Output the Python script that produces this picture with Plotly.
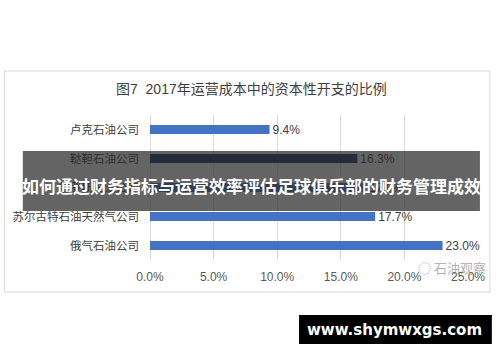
import plotly.graph_objects as go

# ---- data (top to bottom as shown) ----
companies = ["卢克石油公司", "鞑靼石油公司", "俄罗斯石油公司", "苏尔古特石油天然气公司", "俄气石油公司"]
capex_share = [9.4, 16.3, 17.0, 17.7, 23.0]  # % (third row hidden under banner: estimated)
bar_colors = ["#4472C4", "#1F3864", "#4472C4", "#4472C4", "#4472C4"]
x_ticks = [0, 5, 10, 15, 20, 25]
x_tick_labels = ["0.0%", "5.0%", "10.0%", "15.0%", "20.0%", "25.0%"]

title_text = "图7  2017年运营成本中的资本性开支的比例"
banner_text = "如何通过财务指标与运营效率评估足球俱乐部的财务管理成效"
site_text = "www.shymwxgs.com"
source_text = "石油观察"

W, H = 500, 362
L, R, T, B = 148, 32, 115, 102
PW, PH = W - L - R, H - T - B

def px(x):
    return (x - L) / PW

def py(y):
    return (H - B - y) / PH

FONT = "Liberation Sans, Arial, Noto Sans CJK SC, sans-serif"

fig = go.Figure()
fig.add_trace(go.Bar(
    y=companies,
    x=capex_share,
    orientation="h",
    marker=dict(color=bar_colors, line=dict(width=0)),
    text=[f"{v:.1f}%" for v in capex_share],
    textposition="outside",
    constraintext="none",
    textfont=dict(size=12, color="#404040", family=FONT),
    cliponaxis=False,
    hoverinfo="skip",
))

fig.update_layout(
    width=W, height=H,
    margin=dict(l=L, r=R, t=T, b=B, pad=0),
    paper_bgcolor="white",
    plot_bgcolor="white",
    showlegend=False,
    bargap=0.69,
    font=dict(family=FONT, color="#404040"),
    xaxis=dict(
        range=[0, 25],
        tickvals=x_ticks,
        ticktext=x_tick_labels,
        showgrid=True,
        gridcolor="#D9D9D9",
        gridwidth=1,
        zeroline=True,
        zerolinecolor="#D9D9D9",
        zerolinewidth=1,
        showline=False,
        ticks="",
        tickfont=dict(size=12, color="#595959", family=FONT),
        ticklabelstandoff=8,
        fixedrange=True,
    ),
    yaxis=dict(
        categoryorder="array",
        categoryarray=companies,
        autorange="reversed",
        showgrid=False,
        showline=False,
        ticks="",
        tickfont=dict(size=11.5, color="#404040", family=FONT),
        ticklabelstandoff=10,
        fixedrange=True,
    ),
)

shapes = []
# chart frame
shapes.append(dict(type="rect", xref="paper", yref="paper",
                   x0=px(1.5), x1=px(490), y0=py(71), y1=py(292),
                   line=dict(color="#D9D9D9", width=1), fillcolor="rgba(0,0,0,0)", layer="below"))
# banner overlay
shapes.append(dict(type="rect", xref="paper", yref="paper",
                   x0=px(20), x1=px(480), y0=py(151), y1=py(211),
                   line=dict(width=0), fillcolor="rgba(40,40,40,0.72)", layer="above"))
# site watermark box
shapes.append(dict(type="rect", xref="paper", yref="paper",
                   x0=px(298), x1=px(492), y0=py(315), y1=py(344),
                   line=dict(width=0), fillcolor="black", layer="above"))
fig.update_layout(shapes=shapes)

annotations = [
    dict(text=title_text, xref="paper", yref="paper", x=px(250), y=py(89),
         xanchor="center", yanchor="middle", showarrow=False,
         font=dict(size=14, color="#404040", family=FONT)),
    dict(text=f"<b>{banner_text}</b>", xref="paper", yref="paper", x=px(250), y=py(185),
         xanchor="center", yanchor="middle", showarrow=False,
         font=dict(size=17, color="white", family="Noto Sans CJK SC, sans-serif")),
    dict(text=f"<b>{site_text}</b>", xref="paper", yref="paper", x=px(394), y=py(329.5),
         xanchor="center", yanchor="middle", showarrow=False,
         font=dict(size=15, color="white", family="DejaVu Sans, sans-serif")),
    dict(text=f"◌ {source_text}", xref="paper", yref="paper", x=px(452), y=py(267),
         xanchor="center", yanchor="middle", showarrow=False,
         font=dict(size=13, color="rgba(150,150,150,0.75)", family="Noto Sans CJK SC, sans-serif")),
]
fig.update_layout(annotations=annotations)

fig.write_html("out.html")
